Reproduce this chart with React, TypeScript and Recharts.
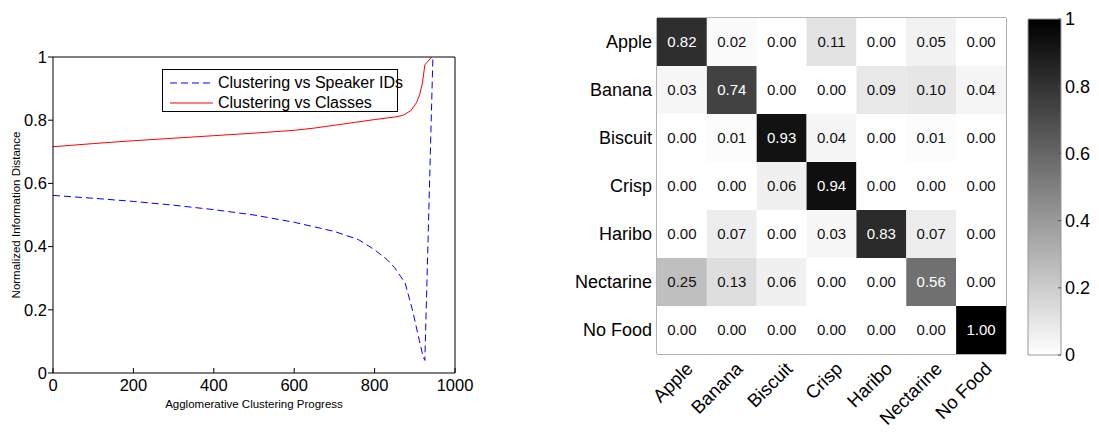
import {
  LineChart, Line, XAxis, YAxis, Legend,
  BarChart, Bar, ReferenceArea,
} from 'recharts'

const FONT = '"Liberation Sans", Arial, Helvetica, sans-serif'

// normalized information distance during agglomerative clustering
const speakerProgress = [0, 100, 200, 300, 400, 500, 600, 700, 760, 800, 830, 850, 876, 896, 911, 921, 925, 934, 945]
const speakerNid = [0.562, 0.553, 0.543, 0.531, 0.517, 0.5, 0.477, 0.448, 0.422, 0.39, 0.36, 0.333, 0.285, 0.19, 0.104, 0.05, 0.04, 0.47, 1.0]
const classProgress = [0, 100, 200, 300, 400, 500, 600, 650, 700, 750, 800, 850, 870, 890, 904, 912, 919, 925, 942]
const classNid = [0.716, 0.726, 0.735, 0.743, 0.751, 0.759, 0.768, 0.775, 0.784, 0.793, 0.802, 0.81, 0.815, 0.83, 0.855, 0.88, 0.918, 0.975, 1.0]

const progressTicks = [0, 200, 400, 600, 800, 1000]
const nidTicks = [0, 0.2, 0.4, 0.6, 0.8, 1]

// confusion matrix (rows: true class, columns: predicted)
const foods = ['Apple', 'Banana', 'Biscuit', 'Crisp', 'Haribo', 'Nectarine', 'No Food']
const appleRow = [0.82, 0.02, 0.0, 0.11, 0.0, 0.05, 0.0]
const bananaRow = [0.03, 0.74, 0.0, 0.0, 0.09, 0.1, 0.04]
const biscuitRow = [0.0, 0.01, 0.93, 0.04, 0.0, 0.01, 0.0]
const crispRow = [0.0, 0.0, 0.06, 0.94, 0.0, 0.0, 0.0]
const hariboRow = [0.0, 0.07, 0.0, 0.03, 0.83, 0.07, 0.0]
const nectarineRow = [0.25, 0.13, 0.06, 0.0, 0.0, 0.56, 0.0]
const noFoodRow = [0.0, 0.0, 0.0, 0.0, 0.0, 0.0, 1.0]
const confusion = [appleRow, bananaRow, biscuitRow, crispRow, hariboRow, nectarineRow, noFoodRow]

const colorbarTicks = [0, 0.2, 0.4, 0.6, 0.8, 1]

const speakerData = speakerProgress.map((p, i) => ({ p, v: speakerNid[i] }))
const classData = classProgress.map((p, i) => ({ p, v: classNid[i] }))

// each cell spans one unit on the stacked axis
const heatData = foods.map((name, i) => {
  const row: Record<string, number | string> = { name }
  confusion[i].forEach((v, j) => {
    row[`c${j}`] = 1
    row[`v${j}`] = v
  })
  return row
})
const cellTicks = foods.map((_, j) => j + 0.5)

function gray(v: number): string {
  const g = Math.round(255 * (1 - v))
  return `rgb(${g},${g},${g})`
}

function LegendBox() {
  const rows = [
    { label: 'Clustering vs Speaker IDs', color: '#0000ff', dash: '7 4' },
    { label: 'Clustering vs Classes', color: '#ff0000', dash: undefined },
  ]
  return (
    <div style={{ position: 'relative', width: 234, height: 41, border: '1px solid #000', background: '#fff', fontFamily: FONT }}>
      {rows.map((r, i) => (
        <div key={r.label} style={{ position: 'absolute', left: 0, top: 3 + i * 20, height: 20, whiteSpace: 'nowrap' }}>
          <svg width={50} height={20} style={{ position: 'absolute', left: 7, top: 0 }}>
            <line x1={0} x2={43} y1={10} y2={10} stroke={r.color} strokeWidth={1} strokeDasharray={r.dash} />
          </svg>
          <span style={{ position: 'absolute', left: 55, top: 0, fontSize: 16, lineHeight: '20px', color: '#000' }}>{r.label}</span>
        </div>
      ))}
    </div>
  )
}

function CellShape(props: any) {
  const { x, y, width, height, payload, col } = props
  const v = payload[`v${col}`] as number
  return (
    <g>
      <rect x={x} y={y} width={width} height={height} fill={gray(v)} />
      <text
        x={x + width / 2}
        y={y + height / 2}
        dy="0.36em"
        textAnchor="middle"
        fontSize={15}
        fontFamily={FONT}
        fill={v > 0.5 ? '#fff' : '#111'}
      >
        {v.toFixed(2)}
      </text>
    </g>
  )
}

function FoodTick(props: any) {
  const { x, y, payload } = props
  const ax = x + 12
  const ay = y + 14
  return (
    <text x={ax} y={ay} transform={`rotate(-45 ${ax} ${ay})`} textAnchor="end" fontSize={18.5} fontFamily={FONT} fill="#000">
      {foods[Math.floor(payload.value)]}
    </text>
  )
}

export default function App() {
  const tickFont = { fill: '#000', fontSize: 16.5, fontFamily: FONT }
  return (
    <div style={{ position: 'absolute', left: 0, top: 0, width: 1099, height: 433, background: '#fff' }}>
      <div style={{ position: 'absolute', left: 0, top: 0 }}>
        <LineChart width={490} height={420} margin={{ top: 56, right: 34, bottom: 0, left: 0 }}>
          <XAxis
            dataKey="p" type="number" domain={[0, 1000]} ticks={progressTicks}
            height={47} tick={tickFont} tickSize={-5} tickMargin={11}
            axisLine={{ stroke: '#000' }} tickLine={{ stroke: '#000' }}
            label={{ value: 'Agglomerative Clustering Progress', position: 'insideBottom', offset: 12, style: { fontSize: 11.5, fontFamily: FONT, fill: '#000' } }}
          />
          <XAxis
            xAxisId="top" orientation="top" type="number" domain={[0, 1000]} ticks={progressTicks}
            height={1} tick={false} tickSize={-5}
            axisLine={{ stroke: '#000' }} tickLine={{ stroke: '#000' }}
          />
          <YAxis
            type="number" domain={[0, 1]} ticks={nidTicks} width={53}
            tick={tickFont} tickSize={5} tickMargin={1}
            axisLine={{ stroke: '#000' }} tickLine={{ stroke: '#000' }}
            label={{ value: 'Normalized Information Distance', angle: -90, position: 'insideLeft', offset: 16, style: { textAnchor: 'middle', fontSize: 11.5, fontFamily: FONT, fill: '#000' } }}
          />
          <YAxis
            yAxisId="right" orientation="right" type="number" domain={[0, 1]} ticks={nidTicks}
            width={1} tick={false} tickSize={-5}
            axisLine={{ stroke: '#000' }} tickLine={{ stroke: '#000' }}
          />
          <Legend
            layout="horizontal" verticalAlign="middle" align="center"
            content={() => <LegendBox />}
            wrapperStyle={{ left: 162, top: 69, width: 236, height: 43 }}
          />
          <Line data={speakerData} dataKey="v" type="linear" stroke="#0000ff" strokeWidth={1} strokeDasharray="7 4" dot={false} isAnimationActive={false} />
          <Line data={classData} dataKey="v" type="linear" stroke="#ff0000" strokeWidth={1} dot={false} isAnimationActive={false} />
        </LineChart>
      </div>

      <div style={{ position: 'absolute', left: 0, top: 0 }}>
        <BarChart
          width={1020} height={433} data={heatData} layout="vertical"
          barCategoryGap={0} barGap={0}
          margin={{ top: 18, right: 14, bottom: 0, left: 563 }}
        >
          <YAxis
            type="category" dataKey="name" width={94} tickSize={0} tickMargin={5}
            tick={{ fill: '#000', fontSize: 18, fontFamily: FONT }}
            axisLine={false} tickLine={false}
          />
          <XAxis
            type="number" domain={[0, 7]} ticks={cellTicks} height={79}
            tickSize={0} tick={<FoodTick />} axisLine={false} tickLine={false}
          />
          {foods.map((f, j) => (
            <Bar
              key={f} dataKey={`c${j}`} stackId="m" isAnimationActive={false}
              shape={(p: any) => <CellShape {...p} col={j} />}
            />
          ))}
          <ReferenceArea x1={0} x2={7} fill="none" stroke="#666" strokeWidth={1} ifOverflow="visible" />
        </BarChart>
      </div>

      <div style={{ position: 'absolute', left: 1000, top: 0 }}>
        <BarChart
          width={99} height={433} data={[{ name: 'scale', top: 1 }]}
          barCategoryGap={0}
          margin={{ top: 19, right: 0, bottom: 78, left: 27 }}
        >
          <defs>
            <linearGradient id="grayscale" x1="0" y1="1" x2="0" y2="0">
              <stop offset="0%" stopColor="#fff" />
              <stop offset="100%" stopColor="#000" />
            </linearGradient>
          </defs>
          <XAxis dataKey="name" hide />
          <YAxis
            yAxisId="in" orientation="left" type="number" domain={[0, 1]} ticks={colorbarTicks}
            width={1} tick={false} tickSize={-3} axisLine={false} tickLine={{ stroke: '#555' }}
          />
          <YAxis
            yAxisId="out" orientation="right" type="number" domain={[0, 1]} ticks={colorbarTicks}
            width={38} tickSize={-3} tickMargin={7} axisLine={false} tickLine={{ stroke: '#555' }}
            tick={{ fill: '#000', fontSize: 18, fontFamily: FONT, textAnchor: 'start' }}
          />
          <Bar yAxisId="out" dataKey="top" fill="url(#grayscale)" stroke="#999" strokeWidth={1} isAnimationActive={false} />
        </BarChart>
      </div>
    </div>
  )
}
